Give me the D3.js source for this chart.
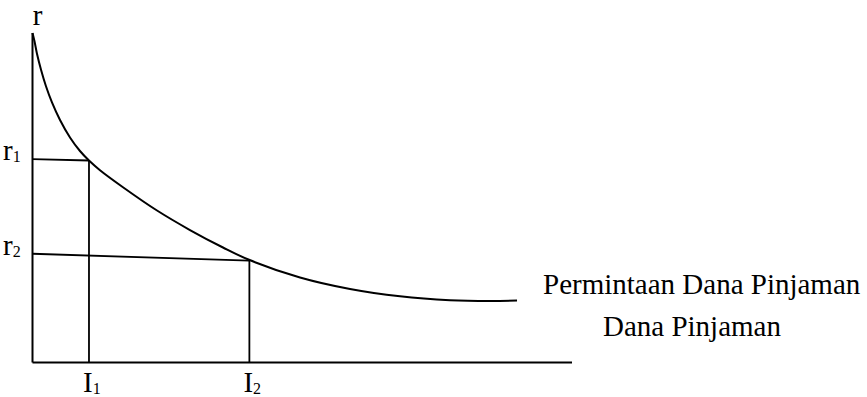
<!DOCTYPE html>
<html><head><meta charset="utf-8">
<script src="https://cdn.jsdelivr.net/npm/d3@7"></script>
<style>body{margin:0;background:#fff}text{font-family:"Liberation Serif","Times New Roman",serif;fill:#000}</style>
</head><body><svg id="c" width="867" height="397"></svg>
<script>
// Demand curve (x: Dana Pinjaman, y: r), arbitrary units 0-100
const curveX = [0, 0.37, 0.83, 1.58, 2.50, 3.61, 5.10, 6.95, 8.80, 10.47, 12.51, 16.77, 23.08, 29.19, 35.31, 40.13, 49.58, 58.85, 68.12, 77.39, 84.80, 89.81];
const curveY = [100, 97.51, 93.72, 88.86, 83.85, 78.94, 73.60, 68.29, 64.19, 61.31, 58.36, 53.20, 46.13, 40.21, 34.90, 31.17, 25.80, 22.31, 20.09, 18.91, 18.66, 18.79];
const levelNames = ["r1", "r2"];
const levelR = [61.7, 33.0];      // r at the y-axis end of each guide line
const levelRend = [61.3, 30.9];   // r where the guide meets the curve
const levelI = [10.47, 40.2];
const iNames = ["I1", "I2"];
const axisLabels = ["r", "Dana Pinjaman", "Permintaan Dana Pinjaman"];

const svg = d3.select("#c");
const x = d3.scaleLinear().domain([0, 100]).range([32.5, 572]);
const y = d3.scaleLinear().domain([0, 100]).range([362.5, 33]);

// axes
svg.append("line").attr("x1", x(0)).attr("x2", x(0)).attr("y1", y(100)).attr("y2", y(0)).attr("stroke", "#000").attr("stroke-width", 2);
svg.append("line").attr("x1", x(0)).attr("x2", x(100)).attr("y1", y(0)).attr("y2", y(0)).attr("stroke", "#000").attr("stroke-width", 2);

// curve
const pts = curveX.map((v, i) => [v, curveY[i]]);
svg.append("path").datum(pts)
  .attr("d", d3.line().x(d => x(d[0])).y(d => y(d[1])).curve(d3.curveCatmullRom.alpha(0.5)))
  .attr("fill", "none").attr("stroke", "#000").attr("stroke-width", 2);

// guide lines
levelI.forEach((iv, k) => {
  svg.append("line").attr("x1", x(0)).attr("y1", y(levelR[k])).attr("x2", x(iv)).attr("y2", y(levelRend[k]))
    .attr("stroke", "#000").attr("stroke-width", 1.8);
  svg.append("line").attr("x1", x(iv)).attr("y1", y(levelRend[k])).attr("x2", x(iv)).attr("y2", y(0))
    .attr("stroke", "#000").attr("stroke-width", 1.8);
});

// labels
svg.append("text").attr("x", x(0) + 5).attr("y", 25).attr("text-anchor", "middle").style("font-size", "29px").text(axisLabels[0]);

levelNames.forEach((n, k) => {
  const t = svg.append("text").attr("x", 3).attr("y", y(levelR[k]) + 1).style("font-size", "29px");
  t.append("tspan").text(n[0]);
  t.append("tspan").attr("dy", 2).style("font-size", "16px").text(n.slice(1));
});
iNames.forEach((n, k) => {
  const t = svg.append("text").attr("x", x(levelI[k]) - 6).attr("y", 392).style("font-size", "29px");
  t.append("tspan").text(n[0]);
  t.append("tspan").attr("dy", 2).style("font-size", "16px").text(n.slice(1));
});
svg.append("text").attr("x", 543).attr("y", 294).style("font-size", "29px").text(axisLabels[2]);
svg.append("text").attr("x", 603).attr("y", 336).style("font-size", "29px").text(axisLabels[1]);
</script></body></html>
